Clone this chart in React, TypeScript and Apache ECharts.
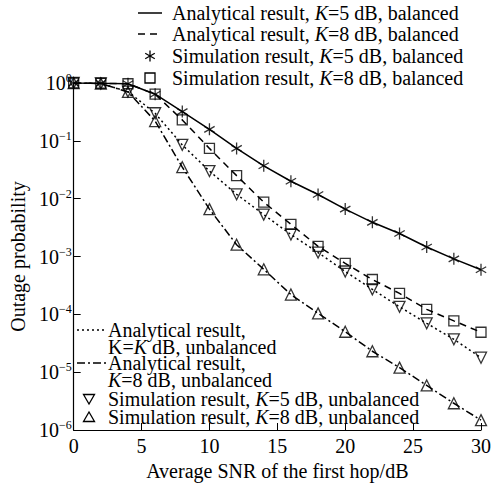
import React, { useEffect, useRef } from "react";
import * as echarts from "echarts";

// Average SNR of the first hop (dB)
const snr = [0, 2, 4, 6, 8, 10, 12, 14, 16, 18, 20, 22, 24, 26, 28, 30];

// Analytical results
const analyticK5Balanced = [1, 0.99, 0.97, 0.64, 0.32, 0.158, 0.074, 0.037, 0.02, 0.0118, 0.0066, 0.0039, 0.0025, 0.00146, 0.00091, 0.00059];
const analyticK8Balanced = [1, 0.99, 0.97, 0.64, 0.23, 0.074, 0.025, 0.0087, 0.0036, 0.0015, 0.00076, 0.0004, 0.00023, 0.000122, 7.7e-5, 4.9e-5];
const analyticK5Unbalanced = [1, 0.98, 0.71, 0.3, 0.085, 0.03, 0.0119, 0.0053, 0.0024, 0.00117, 0.00055, 0.00027, 0.000135, 7.0e-5, 3.7e-5, 1.78e-5];
const analyticK8Unbalanced = [1, 0.98, 0.7, 0.22, 0.035, 0.0066, 0.0016, 0.0006, 0.00022, 0.000104, 5.0e-5, 2.3e-5, 1.2e-5, 5.9e-6, 2.9e-6, 1.48e-6];

// Simulation results
const simK5Balanced = [1, 0.99, 0.97, 0.64, 0.32, 0.158, 0.074, 0.037, 0.02, 0.0118, 0.0066, 0.0039, 0.0025, 0.00146, 0.00091, 0.00059];
const simK8Balanced = [1, 0.99, 0.97, 0.64, 0.23, 0.074, 0.025, 0.0087, 0.0036, 0.0015, 0.00076, 0.0004, 0.00023, 0.000122, 7.7e-5, 4.9e-5];
const simK5Unbalanced = [1, 0.98, 0.71, 0.3, 0.085, 0.03, 0.0119, 0.0053, 0.0024, 0.00117, 0.00055, 0.00027, 0.000135, 7.0e-5, 3.7e-5, 1.78e-5];
const simK8Unbalanced = [1, 0.98, 0.7, 0.22, 0.035, 0.0066, 0.0016, 0.0006, 0.00022, 0.000104, 5.0e-5, 2.3e-5, 1.2e-5, 5.9e-6, 2.9e-6, 1.48e-6];

const xTicks = [0, 5, 10, 15, 20, 25, 30];
const yExponents = ["0", "−1", "−2", "−3", "−4", "−5", "−6"];

const FONT = '"Liberation Serif", "Times New Roman", serif';
const FS = 20;
const ASTERISK = "path://M0,-5L0,5M-4.33,-2.5L4.33,2.5M-4.33,2.5L4.33,-2.5";

export default function App() {
  const ref = useRef<HTMLDivElement>(null);

  useEffect(() => {
    if (!ref.current) return;
    const chart = echarts.init(ref.current, null, { renderer: "svg" });
    const pair = (ys: number[]) => snr.map((x, i) => [x, ys[i]]);
    const italic = { fontSize: FS, fontFamily: FONT, fontStyle: "italic", fill: "#000", lineHeight: 17 };

    const lineSeries = (name: string, ys: number[], type: any) => ({
      name,
      type: "line",
      data: pair(ys),
      symbol: "none",
      z: 2,
      lineStyle: { color: "#000", width: 1.5, type },
    });
    const scatterSeries = (name: string, ys: number[], symbol: string, size: number, rotate = 0) => ({
      name,
      type: "scatter",
      data: pair(ys),
      symbol,
      symbolSize: size,
      symbolRotate: rotate,
      symbolKeepAspect: true,
      z: 3,
      itemStyle: { color: "rgba(255,255,255,0)", borderColor: "#000", borderWidth: 1.3 },
    });

    const textEl = (x: number, y: number, text: string) => ({
      type: "text",
      x,
      y,
      style: {
        text,
        fontSize: FS,
        fontFamily: FONT,
        fill: "#000",
        verticalAlign: "middle",
        lineHeight: 17,
        rich: { i: italic },
      },
    });
    const legLine = (x1: number, x2: number, y: number, dash: any) => ({
      type: "line",
      shape: { x1, y1: y, x2, y2: y },
      style: { stroke: "#000", lineWidth: 1.5, lineDash: dash },
    });
    const asteriskEl = (cx: number, cy: number) => ({
      type: "group",
      x: cx,
      y: cy,
      children: [
        { type: "line", shape: { x1: 0, y1: -5.5, x2: 0, y2: 5.5 }, style: { stroke: "#000", lineWidth: 1.3 } },
        { type: "line", shape: { x1: -4.8, y1: -2.75, x2: 4.8, y2: 2.75 }, style: { stroke: "#000", lineWidth: 1.3 } },
        { type: "line", shape: { x1: -4.8, y1: 2.75, x2: 4.8, y2: -2.75 }, style: { stroke: "#000", lineWidth: 1.3 } },
      ],
    });
    const triEl = (cx: number, cy: number, down: boolean) => ({
      type: "polygon",
      shape: {
        points: down
          ? [[cx - 5.5, cy - 4.5], [cx + 5.5, cy - 4.5], [cx, cy + 5]]
          : [[cx - 5.5, cy + 4.5], [cx + 5.5, cy + 4.5], [cx, cy - 5]],
      },
      style: { fill: "none", stroke: "#000", lineWidth: 1.3 },
    });

    const option = {
      animation: false,
      backgroundColor: "#fff",
      grid: { left: 64, right: 12, top: 83, bottom: 51, containLabel: false },
      xAxis: {
        type: "value",
        min: 0,
        max: 30,
        interval: 5,
        name: "Average SNR of the first hop/dB",
        nameLocation: "middle",
        nameGap: 31,
        nameTextStyle: { fontSize: FS, fontFamily: FONT, color: "#000" },
        axisLine: { lineStyle: { color: "#000", width: 1.2 } },
        axisTick: { inside: true, length: 7, lineStyle: { color: "#000" } },
        axisLabel: {
          fontSize: FS,
          fontFamily: FONT,
          color: "#000",
          margin: 6,
          formatter: (v: number) => (xTicks.includes(v) ? String(v) : ""),
        },
        splitLine: { show: false },
      },
      yAxis: {
        type: "log",
        logBase: 10,
        min: 1e-6,
        max: 1,
        name: "Outage probability",
        nameLocation: "middle",
        nameGap: 33,
        nameTextStyle: { fontSize: FS, fontFamily: FONT, color: "#000" },
        axisLine: { show: true, lineStyle: { color: "#000", width: 1.2 } },
        axisTick: { inside: true, length: 7, lineStyle: { color: "#000" } },
        axisLabel: {
          fontSize: FS,
          fontFamily: FONT,
          color: "#000",
          margin: 2,
          formatter: (v: number) => {
            const e = Math.round(-Math.log10(v));
            return "10{s|" + yExponents[e] + "}";
          },
          rich: {
            s: { fontSize: 12, fontFamily: FONT, color: "#000", verticalAlign: "top", padding: [0, 0, 10, 0] },
          },
        },
        splitLine: { show: false },
      },
      series: [
        lineSeries("Analytical result, K=5 dB, balanced", analyticK5Balanced, "solid"),
        lineSeries("Analytical result, K=8 dB, balanced", analyticK8Balanced, [7, 5]),
        lineSeries("Analytical result, K=K dB, unbalanced", analyticK5Unbalanced, [2, 3]),
        lineSeries("Analytical result, K=8 dB, unbalanced", analyticK8Unbalanced, [8, 3, 2, 3]),
        scatterSeries("Simulation result, K=5 dB, balanced", simK5Balanced, ASTERISK, 12),
        scatterSeries("Simulation result, K=8 dB, balanced", simK8Balanced, "rect", 10),
        scatterSeries("Simulation result, K=5 dB, unbalanced", simK5Unbalanced, "triangle", 11, 180),
        scatterSeries("Simulation result, K=8 dB, unbalanced", simK8Unbalanced, "triangle", 11),
      ],
      graphic: [
        // top legend
        legLine(138, 162, 13, null),
        textEl(172, 13, "Analytical result, {i|K}=5 dB, balanced"),
        legLine(138, 162, 34, [7, 5]),
        textEl(172, 34, "Analytical result, {i|K}=8 dB, balanced"),
        asteriskEl(150, 56),
        textEl(172, 56, "Simulation result, {i|K}=5 dB, balanced"),
        { type: "rect", shape: { x: 145, y: 73, width: 10, height: 10 }, style: { fill: "none", stroke: "#000", lineWidth: 1.3 } },
        textEl(172, 78, "Simulation result, {i|K}=8 dB, balanced"),
        // bottom legend
        legLine(77, 106, 330, [2, 3]),
        textEl(108, 330, "Analytical result,"),
        textEl(108, 347, "K={i|K} dB, unbalanced"),
        legLine(77, 106, 363, [8, 3, 2, 3]),
        textEl(108, 363, "Analytical result,"),
        textEl(108, 380, "{i|K}=8 dB, unbalanced"),
        triEl(89, 399, true),
        textEl(108, 399, "Simulation result, {i|K}=5 dB, unbalanced"),
        triEl(89, 417, false),
        textEl(108, 417, "Simulation result, {i|K}=8 dB, unbalanced"),
      ],
    };

    chart.setOption(option as any);
    return () => chart.dispose();
  }, []);

  return (
    <div
      ref={ref}
      style={{ position: "fixed", left: 0, top: 0, width: 494, height: 486, background: "#fff" }}
    />
  );
}
